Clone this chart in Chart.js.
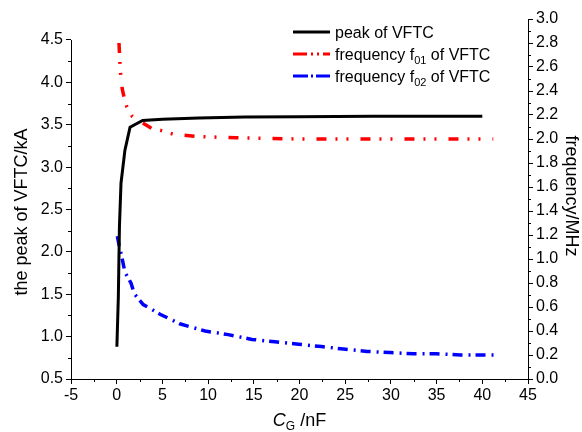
<!DOCTYPE html>
<html>
<head>
<meta charset="utf-8">
<script src="https://cdn.jsdelivr.net/npm/chart.js@4.4.1/dist/chart.umd.min.js"></script>
<style>
  html, body { margin: 0; padding: 0; background: #fff; }
</style>
</head>
<body>
<canvas id="chart" width="582" height="432"></canvas>
<script>
// values
const peakX = [0.02, 0.18, 0.3, 0.47, 0.9, 1.46, 2.84, 5, 9, 14, 20, 28, 40];
const peakY = [0.88, 1.47, 2.30, 2.81, 3.20, 3.47, 3.55, 3.565, 3.58, 3.59, 3.595, 3.6, 3.6];

const f01X = [0.25, 0.35, 0.45, 0.6, 0.8, 1.1, 1.7, 2.7, 3.8, 4.9, 6.2, 9, 13, 20, 30, 41.2];
const f01Y = [2.80, 2.64, 2.52, 2.42, 2.35, 2.27, 2.19, 2.14, 2.09, 2.07, 2.04, 2.02, 2.01, 2.0, 2.0, 2.0];

const f02X = [0.07, 0.25, 0.55, 0.9, 1.56, 1.93, 2.9, 4.74, 6.9, 9.66, 12.2, 14.8, 17.3, 19.9, 22.4, 24.8, 27.4, 29.9, 32.5, 35, 37.6, 40.1, 41.3];
const f02Y = [1.19, 1.12, 1.02, 0.89, 0.80, 0.71, 0.62, 0.54, 0.46, 0.40, 0.37, 0.33, 0.31, 0.29, 0.27, 0.25, 0.23, 0.22, 0.21, 0.21, 0.20, 0.20, 0.20];

const xTicks = [-5, 0, 5, 10, 15, 20, 25, 30, 35, 40, 45];
const leftTicks = [0.5, 1.0, 1.5, 2.0, 2.5, 3.0, 3.5, 4.0, 4.5];
const rightTicks = [0.0, 0.2, 0.4, 0.6, 0.8, 1.0, 1.2, 1.4, 1.6, 1.8, 2.0, 2.2, 2.4, 2.6, 2.8, 3.0];

const FONT = '"Liberation Sans", Arial, sans-serif';

const toPoints = (xs, ys) => xs.map((x, i) => ({ x: x, y: ys[i] }));

const legendItems = [
  { color: '#000000', dash: [], main: 'peak of VFTC', sub: '', tail: '' },
  { color: '#ff0000', dash: [14, 4, 2, 4, 2, 4], main: 'frequency f', sub: '01', tail: ' of VFTC' },
  { color: '#0000ff', dash: [15, 3, 2, 3], main: 'frequency f', sub: '02', tail: ' of VFTC' }
];

// minor ticks, left axis line, titles and legend
const decorPlugin = {
  id: 'decor',
  afterDraw(chart) {
    const ctx = chart.ctx;
    const area = chart.chartArea;
    const xs = chart.scales.x, yl = chart.scales.y, yr = chart.scales.y1;
    ctx.save();
    ctx.strokeStyle = '#000';
    ctx.lineWidth = 1;
    ctx.beginPath();
    // left axis line only spans 0.5 .. 4.5
    const lx = Math.round(area.left) + 0.5;
    ctx.moveTo(lx, yl.getPixelForValue(0.5) + 0.5);
    ctx.lineTo(lx, yl.getPixelForValue(4.5));
    for (let v = -2.5; v < 45; v += 5) {
      const p = Math.round(xs.getPixelForValue(v)) + 0.5;
      ctx.moveTo(p, area.bottom);
      ctx.lineTo(p, area.bottom + 3);
    }
    for (let v = 0.75; v < 4.5; v += 0.5) {
      const p = Math.round(yl.getPixelForValue(v)) + 0.5;
      ctx.moveTo(area.left, p);
      ctx.lineTo(area.left - 3, p);
    }
    for (let v = 0.1; v < 3; v += 0.2) {
      const p = Math.round(yr.getPixelForValue(v)) + 0.5;
      ctx.moveTo(area.right, p);
      ctx.lineTo(area.right + 3, p);
    }
    ctx.stroke();

    ctx.fillStyle = '#000';
    ctx.textBaseline = 'alphabetic';

    // left title
    ctx.save();
    ctx.translate(27, 212);
    ctx.rotate(-Math.PI / 2);
    ctx.textAlign = 'center';
    ctx.font = '18px ' + FONT;
    ctx.fillText('the peak of VFTC/kA', 0, 0);
    ctx.restore();

    // right title
    ctx.save();
    ctx.translate(566, 196);
    ctx.rotate(Math.PI / 2);
    ctx.textAlign = 'center';
    ctx.font = '18px ' + FONT;
    ctx.fillText('frequency/MHz', 0, 0);
    ctx.restore();

    // x title: C_G /nF
    ctx.textAlign = 'left';
    ctx.font = 'italic 18px ' + FONT;
    const wC = ctx.measureText('C').width;
    ctx.font = '12px ' + FONT;
    const wG = ctx.measureText('G').width;
    ctx.font = '18px ' + FONT;
    const wR = ctx.measureText(' /nF').width;
    let tx = (area.left + area.right) / 2 - (wC + wG + wR) / 2;
    const ty = 426;
    ctx.font = 'italic 18px ' + FONT;
    ctx.fillText('C', tx, ty);
    tx += wC;
    ctx.font = '12px ' + FONT;
    ctx.fillText('G', tx, ty + 4);
    tx += wG;
    ctx.font = '18px ' + FONT;
    ctx.fillText(' /nF', tx, ty);

    // legend
    const rows = [32, 54, 76];
    legendItems.forEach((item, i) => {
      const y = rows[i];
      ctx.strokeStyle = item.color;
      ctx.lineWidth = 3;
      ctx.setLineDash(item.dash);
      ctx.beginPath();
      ctx.moveTo(293, y);
      ctx.lineTo(330, y);
      ctx.stroke();
      ctx.setLineDash([]);
      let x = 335;
      ctx.font = '16px ' + FONT;
      ctx.fillText(item.main, x, y + 6);
      x += ctx.measureText(item.main).width;
      if (item.sub) {
        ctx.font = '11px ' + FONT;
        ctx.fillText(item.sub, x, y + 10);
        x += ctx.measureText(item.sub).width;
        ctx.font = '16px ' + FONT;
        ctx.fillText(item.tail, x, y + 6);
      }
    });
    ctx.restore();
  }
};

new Chart(document.getElementById('chart'), {
  type: 'line',
  data: {
    datasets: [
      {
        label: 'peak of VFTC',
        data: toPoints(peakX, peakY),
        yAxisID: 'y',
        borderColor: '#000000',
        borderWidth: 3,
        pointRadius: 0,
        tension: 0
      },
      {
        label: 'frequency f01 of VFTC',
        data: toPoints(f01X, f01Y),
        yAxisID: 'y1',
        borderColor: '#ff0000',
        borderWidth: 3.5,
        borderDash: [10, 9, 2, 9, 2, 12],
        pointRadius: 0,
        tension: 0
      },
      {
        label: 'frequency f02 of VFTC',
        data: toPoints(f02X, f02Y),
        yAxisID: 'y1',
        borderColor: '#0000ff',
        borderWidth: 3.5,
        borderDash: [10, 6, 2, 5],
        pointRadius: 0,
        tension: 0
      }
    ]
  },
  options: {
    responsive: false,
    animation: false,
    layout: { padding: { top: 19, left: 0, right: 0, bottom: 0 } },
    plugins: {
      legend: { display: false },
      tooltip: { enabled: false }
    },
    scales: {
      x: {
        type: 'linear',
        min: -5,
        max: 45,
        afterBuildTicks: (scale) => { scale.ticks = xTicks.map(v => ({ value: v })); },
        afterFit: (scale) => { scale.height = 53; },
        ticks: {
          color: '#000',
          font: { family: FONT, size: 16 },
          padding: 2,
          maxRotation: 0,
          callback: (v) => String(v)
        },
        grid: { drawOnChartArea: false, tickLength: 5, color: '#000', tickWidth: 1 },
        border: { color: '#000', width: 1 }
      },
      y: {
        position: 'left',
        min: 0.5,
        max: 4.7475,
        afterBuildTicks: (scale) => { scale.ticks = leftTicks.map(v => ({ value: v })); },
        afterFit: (scale) => { scale.width = 71; },
        ticks: {
          color: '#000',
          font: { family: FONT, size: 16 },
          padding: 3,
          callback: (v) => v.toFixed(1)
        },
        grid: { drawOnChartArea: false, tickLength: 5, color: '#000', tickWidth: 1 },
        border: { display: false }
      },
      y1: {
        position: 'right',
        min: 0,
        max: 3,
        afterBuildTicks: (scale) => { scale.ticks = rightTicks.map(v => ({ value: v })); },
        afterFit: (scale) => { scale.width = 54; },
        ticks: {
          color: '#000',
          font: { family: FONT, size: 16 },
          padding: 3,
          callback: (v) => v.toFixed(1)
        },
        grid: { drawOnChartArea: false, tickLength: 5, color: '#000', tickWidth: 1 },
        border: { color: '#000', width: 1 }
      }
    }
  },
  plugins: [decorPlugin]
});
</script>
</body>
</html>
